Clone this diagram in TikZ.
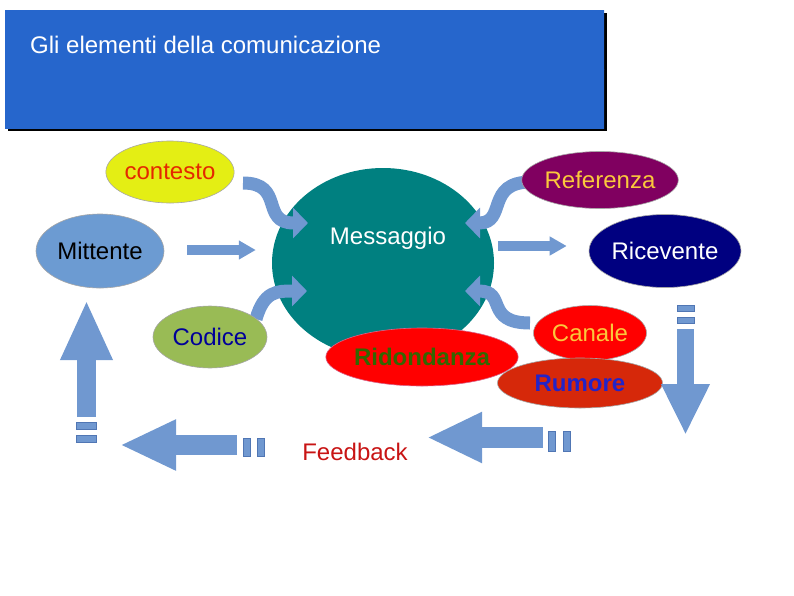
\documentclass[tikz,border=0pt]{standalone}
\usepackage{fontspec}
\setmainfont{Liberation Sans}
\usetikzlibrary{shapes.geometric,arrows.meta,calc}
\definecolor{arrowblue}{RGB}{112, 152, 208}
\definecolor{arrowedge}{RGB}{80, 118, 180}
\definecolor{headblue}{RGB}{38, 102, 204}
\definecolor{headlight}{RGB}{78, 148, 234}
\definecolor{teal}{RGB}{0, 128, 128}
\definecolor{ctxyellow}{RGB}{228, 238, 20}
\definecolor{ctxred}{RGB}{228, 40, 0}
\definecolor{mittblue}{RGB}{108, 155, 210}
\definecolor{refpurple}{RGB}{128, 0, 96}
\definecolor{gold}{RGB}{250, 200, 60}
\definecolor{navy}{RGB}{0, 0, 128}
\definecolor{codgreen}{RGB}{153, 187, 85}
\definecolor{codtext}{RGB}{0, 0, 153}
\definecolor{ridgreen}{RGB}{51, 102, 0}
\definecolor{rumred}{RGB}{214, 40, 10}
\definecolor{rumblue}{RGB}{35, 35, 200}
\definecolor{fbred}{RGB}{200, 20, 20}

\begin{document}
\begin{tikzpicture}[
  x=1pt, y=-1pt,
  bubble/.style={ellipse, draw=black!35, line width=0.6pt, inner sep=0pt, font=\fontsize{24}{28}\selectfont},
  label text/.style={font=\fontsize{24}{28}\selectfont, inner sep=0pt},
  flow/.style={-{Triangle[width=18pt,length=17pt]}, line width=10pt, color=arrowblue},
  wave/.style={-{Triangle[width=30pt,length=15pt]}, line width=13pt, color=arrowblue},
  cycleflow/.style={-{Triangle[width=47pt,length=56pt]}, line width=19pt, color=arrowblue},
  dashbar/.style={fill=arrowblue, draw=arrowedge, line width=0.5pt}
]
\useasboundingbox (0,0) rectangle (794,595);

% title banner
\fill[black] (8,13) rectangle (607,131);
\shade[left color=headblue, middle color=headlight, right color=headblue] (5,10) rectangle (604,69);
\shade[left color=headblue, middle color=headblue!70!headlight, right color=headblue] (5,69) rectangle (604,128);
\node[label text, white, anchor=west] (title) at (30,45) {Gli elementi della comunicazione};

% message
\node[ellipse, fill=teal, minimum width=222, minimum height=190] (mess) at (383,263) {};
\node[label text, white] (messtext) at (388,238) {Messaggio};

% curly arrows into the message
\draw[wave] ($(mess.center)+(-140,-80)$) .. controls +(42,0) and +(-48,0) .. ($(mess.center)+(-75,-40)$);
\draw[wave] ($(mess.center)+(-127,56)$) .. controls +(8,-28) and +(-30,0) .. ($(mess.center)+(-76,28)$);
\draw[wave] ($(mess.center)+(148,-81)$) .. controls +(-46,0) and +(42,0) .. ($(mess.center)+(82,-40)$);
\draw[wave] ($(mess.center)+(147,60)$) .. controls +(-46,0) and +(42,0) .. ($(mess.center)+(82,28)$);

% elements
\node[bubble, fill=ctxyellow, text=ctxred, minimum width=125, minimum height=62] (ctx) at (170,172) {contesto};
\node[bubble, fill=mittblue, minimum width=128, minimum height=74] (mitt) at (100,251) {Mittente};
\node[bubble, fill=refpurple, text=gold, minimum width=137, minimum height=57] (ref) at (600,180) {Referenza};
\node[bubble, fill=navy, text=white, minimum width=152, minimum height=73] (ric) at (665,251) {Ricevente};
\node[bubble, fill=codgreen, text=codtext, minimum width=114, minimum height=62] (cod) at (210,337) {Codice};
\node[bubble, fill=red, text=ridgreen, draw=purple!60, font=\fontsize{24}{28}\selectfont\bfseries, minimum width=176, minimum height=58] (rid) at (422,357) {Ridondanza};
\node[bubble, fill=red, text=gold, minimum width=113, minimum height=55] (can) at (590,333) {Canale};
\node[bubble, fill=rumred, text=rumblue, font=\fontsize{24}{28}\selectfont\bfseries, minimum width=165, minimum height=50] (rum) at (580,383) {Rumore};
\node[label text, text=fbred] (fb) at (355,452) {Feedback};

% straight arrows
\draw[flow, shorten <=23pt, shorten >=16pt] ([yshift=1pt]mitt.east) -- ([yshift=1pt]mitt.east -| mess.west);
\draw[flow, shorten <=4pt, shorten >=22pt] ([yshift=5pt]ric.west -| mess.east) -- ([yshift=5pt]ric.west);

% feedback loop
\draw[cycleflow, line width=17pt, -{Triangle[width=45pt,length=51pt]}] (685.5,329) -- (685.5,435);
\fill[dashbar] (677,305) rectangle (694,311);
\fill[dashbar] (677,317) rectangle (694,323);
\draw[cycleflow, line width=21pt, -{Triangle[width=47pt,length=55pt]}] (543,437.5) -- (427,437.5);
\fill[dashbar] (548,431) rectangle (555,451);
\fill[dashbar] (563,431) rectangle (570,451);
\draw[cycleflow, line width=20pt] (237,445) -- (120,445);
\fill[dashbar] (243,438) rectangle (250,456);
\fill[dashbar] (257,438) rectangle (264,456);
\draw[cycleflow, -{Triangle[width=48pt,length=60pt]}] (86.5,417) -- (86.5,300);
\fill[dashbar] (76,422) rectangle (96,429);
\fill[dashbar] (76,435) rectangle (96,442);
\end{tikzpicture}
\end{document}
